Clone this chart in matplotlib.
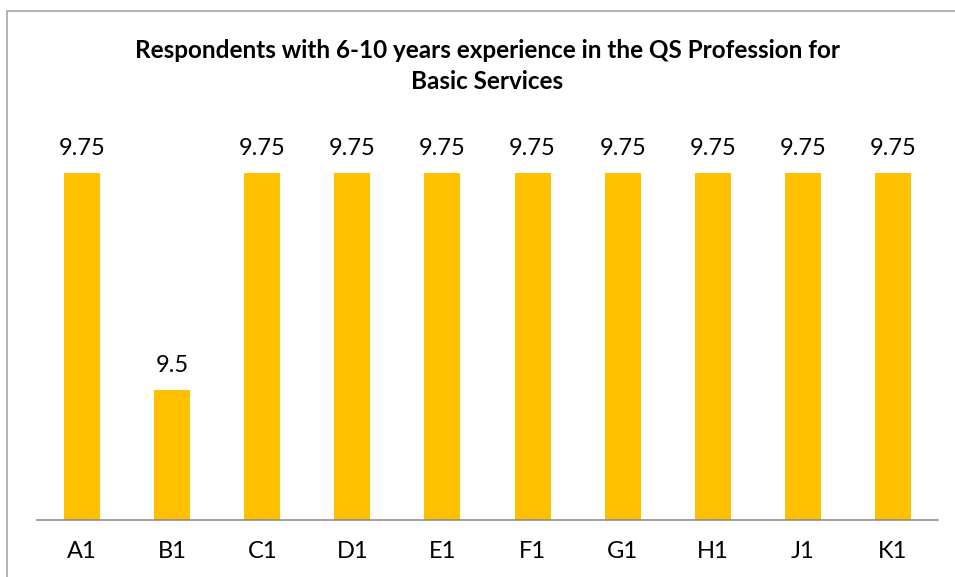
import matplotlib.pyplot as plt
from matplotlib.patches import Rectangle

categories = ["A1", "B1", "C1", "D1", "E1", "F1", "G1", "H1", "J1", "K1"]
values = [9.75, 9.5, 9.75, 9.75, 9.75, 9.75, 9.75, 9.75, 9.75, 9.75]
value_labels = ["9.75", "9.5", "9.75", "9.75", "9.75", "9.75", "9.75", "9.75", "9.75", "9.75"]

plt.rcParams['font.family'] = ['Lato', 'DejaVu Sans']

W, H = 955, 577
fig = plt.figure(figsize=(W / 100, H / 100), dpi=100)

# chart border (only left/top show in the crop)
fig.patches.append(Rectangle((7 / W, -0.1), 1.2, (H - 11) / H + 0.1, transform=fig.transFigure,
                             fill=False, edgecolor="#a6a6a6", linewidth=1.2))

ax = fig.add_axes([37 / W, (H - 520) / H, (938 - 37) / W, (520 - 100) / H])
x = range(len(categories))
ax.bar(x, values, width=0.4, color="#ffc000", zorder=2)
ax.set_xlim(-0.5, len(categories) - 0.5)
ax.set_ylim(9.35, 9.35 + 420 / 868)

for i, v in enumerate(values):
    ax.text(i, v + 0.016, value_labels[i], ha="center", va="bottom", fontsize=17, color="#000000")

ax.set_xticks(list(x))
ax.set_xticklabels(categories, fontsize=17)
ax.tick_params(axis="x", length=0, pad=15)
ax.set_yticks([])
for s in ["top", "right", "left"]:
    ax.spines[s].set_visible(False)
ax.spines["bottom"].set_color("#8c8c8c")
ax.spines["bottom"].set_linewidth(1.2)

fig.text(487 / W, 1 - 66 / H, "Respondents with 6-10 years experience in the QS Profession for\nBasic Services",
         ha="center", va="center", fontsize=17.5, fontweight="bold", linespacing=1.45)

fig.savefig("out.png", dpi=100)
